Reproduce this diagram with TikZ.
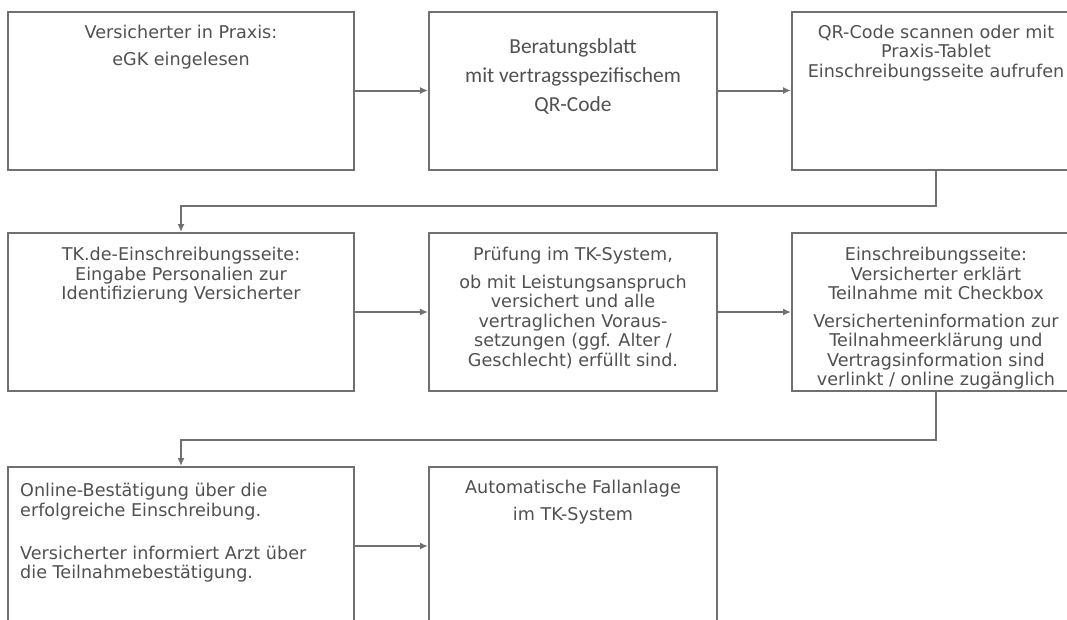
\documentclass[tikz,border=0pt]{standalone}
\usepackage{fontspec}
\setmainfont{DejaVu Sans}
\newfontfamily\calibri{Carlito}
\usetikzlibrary{positioning,arrows.meta}
\definecolor{rahmen}{HTML}{707070}
\definecolor{schrift}{HTML}{505050}

\begin{document}
\begin{tikzpicture}[x=1pt,y=1pt,
    kasten/.style={draw=rahmen,line width=2pt,minimum height=158pt,inner sep=0pt},
    breit/.style={kasten,minimum width=346pt},
    schmal/.style={kasten,minimum width=288pt},
    txt/.style={text=schrift,align=center,inner sep=0pt,font=\fontsize{17.6}{19.5}\selectfont},
    weit/.style={txt,font=\fontsize{17.6}{27}\selectfont},
    pfeil/.style={draw=rahmen,line width=2pt,-{Latex[length=8pt,width=7pt]}}]
    \useasboundingbox (0,0) rectangle (1067,-619);
    \clip (0,0) rectangle (1067,-619);

    % erste Reihe
    \node[breit]  (praxis) at (181,-90.5) {};
    \node[schmal] (blatt)  at (573,-90.5) {};
    \node[schmal] (qr)     at (936,-90.5) {};
    \node[weit,below=14pt of praxis.north] (praxisT) {Versicherter in Praxis:\\eGK eingelesen};
    \node[txt,font=\calibri\fontsize{21.4}{29}\selectfont,below=28pt of blatt.north] (blattT)
        {Beratungsblatt\\mit vertragsspezifischem\\QR-Code};
    \node[txt,below=14pt of qr.north] (qrT)
        {QR-Code scannen oder mit\\Praxis-Tablet\\Einschreibungsseite aufrufen};

    % zweite Reihe
    \node[breit]  (tkde)    at (181,-312) {};
    \node[schmal] (pruef)   at (573,-312) {};
    \node[schmal] (einschr) at (936,-312) {};
    \node[txt,below=15pt of tkde.north] (tkdeT)
        {TK.de-Einschreibungsseite:\\Eingabe Personalien zur\\Identifizierung Versicherter};
    \node[txt,below=15pt of pruef.north] (pruefT)
        {Prüfung im TK-System,\\[8pt]ob mit Leistungsanspruch\\versichert und alle\\vertraglichen Voraus-\\setzungen (ggf. Alter /\\Geschlecht) erfüllt sind.};
    \node[txt,below=15pt of einschr.north] (einschrT)
        {Einschreibungsseite:\\Versicherter erklärt\\Teilnahme mit Checkbox\\[8pt]Versicherteninformation zur\\Teilnahmeerklärung und\\Vertragsinformation sind\\verlinkt / online zugänglich};

    % dritte Reihe
    \node[breit]  (online) at (181,-546) {};
    \node[schmal] (fall)   at (573,-546) {};
    \node[txt,align=left,below right=17pt and 13pt of online.north west] (onlineT)
        {Online-Bestätigung über die\\erfolgreiche Einschreibung.\\[23.5pt]Versicherter informiert Arzt über\\die Teilnahmebestätigung.};
    \node[weit,below=14pt of fall.north] (fallT) {Automatische Fallanlage\\im TK-System};

    % Verbindungen
    \draw[pfeil] (praxis) -- (blatt);
    \draw[pfeil] (blatt) -- (qr);
    \draw[pfeil] (qr.south) -- ++(0,-35) -| (tkde.north);
    \draw[pfeil] (tkde) -- (pruef);
    \draw[pfeil] (pruef) -- (einschr);
    \draw[pfeil] (einschr.south) -- ++(0,-48) -| (online.north);
    \draw[pfeil] (online) -- (fall);
\end{tikzpicture}
\end{document}
